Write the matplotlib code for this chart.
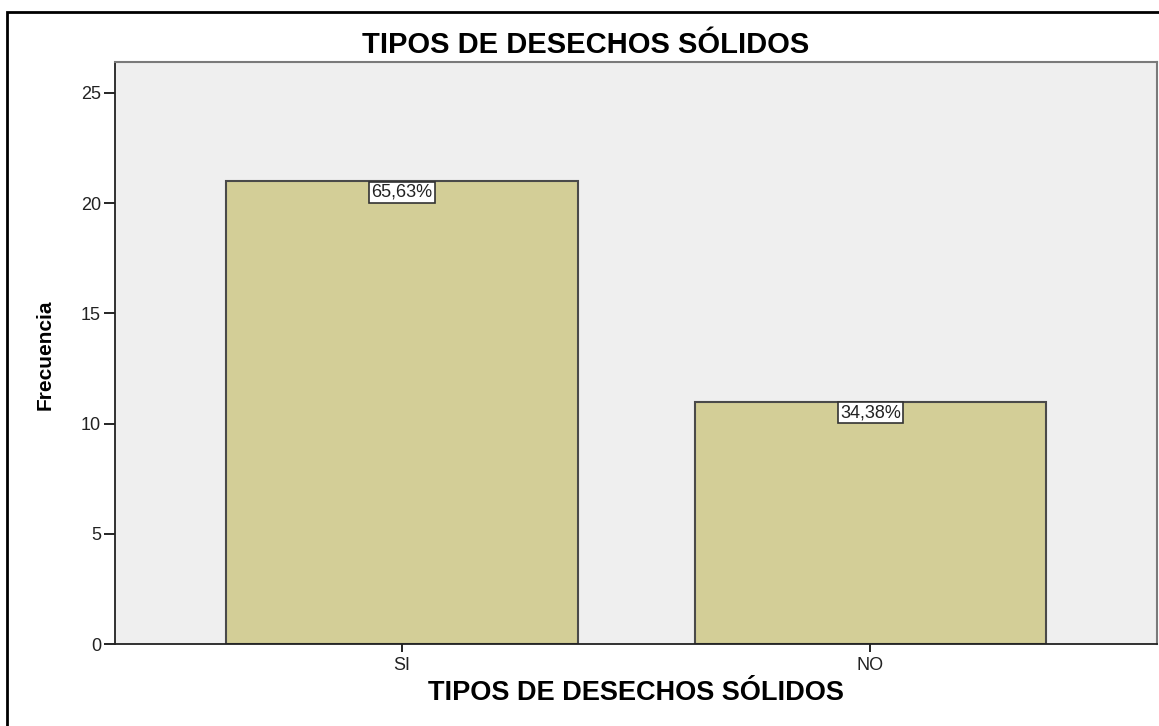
import matplotlib
matplotlib.use('Agg')
import matplotlib.pyplot as plt
from matplotlib.patches import Rectangle

# frequency table
categorias = ['SI', 'NO']
frecuencias = [21, 11]
porcentajes = ['65,63%', '34,38%']

plt.rcParams['font.family'] = ['Liberation Sans', 'DejaVu Sans']

fig = plt.figure(figsize=(11.59, 7.26), dpi=100)
ax = fig.add_axes([0.0992, 0.1129, 0.8991, 0.8017])
ax.set_facecolor('#efefef')

x = range(len(categorias))
bars = ax.bar(x, frecuencias, width=0.75, color='#d3ce97',
              edgecolor='#4a4a4a', linewidth=1.5)

for b, txt in zip(bars, porcentajes):
    ax.annotate(txt, (b.get_x() + b.get_width() / 2, b.get_height()),
                xytext=(0, -2), textcoords='offset points',
                ha='center', va='top', fontsize=13, color='#222222',
                bbox=dict(boxstyle='square,pad=0.12', fc='white',
                          ec='#333333', lw=1.2))

ax.set_xlim(-0.613, 1.612)
ax.set_ylim(0, 26.4)
ax.set_yticks([0, 5, 10, 15, 20, 25])
ax.set_xticks(list(x))
ax.set_xticklabels(categorias)
ax.tick_params(axis='y', length=8, width=1.2, pad=2, labelsize=13,
               labelcolor='#222222')
ax.tick_params(axis='x', length=6, width=1.2, pad=3, labelsize=13,
               labelcolor='#222222')

for s in ['left', 'bottom']:
    ax.spines[s].set_color('#222222')
    ax.spines[s].set_linewidth(1.3)
for s in ['top', 'right']:
    ax.spines[s].set_color('#7a7a7a')
    ax.spines[s].set_linewidth(1.5)

fig.text(0.505, 0.938, 'TIPOS DE DESECHOS SÓLIDOS', ha='center', va='center',
         fontsize=21, fontweight='bold')
fig.text(0.549, 0.0455, 'TIPOS DE DESECHOS SÓLIDOS', ha='center', va='center',
         fontsize=19.5, fontweight='bold')
fig.text(0.0388, 0.511, 'Frecuencia', ha='center', va='center', rotation=90,
         fontsize=15, fontweight='bold',
         family=['Liberation Sans Narrow', 'Liberation Sans', 'DejaVu Sans'])

# outer frame
fig.patches.append(Rectangle((7 / 1159, -0.1), 1.2, 1.1 - 12 / 726,
                             transform=fig.transFigure, fill=False,
                             ec='black', lw=2, clip_on=False))

fig.savefig('out.png', dpi=100)
